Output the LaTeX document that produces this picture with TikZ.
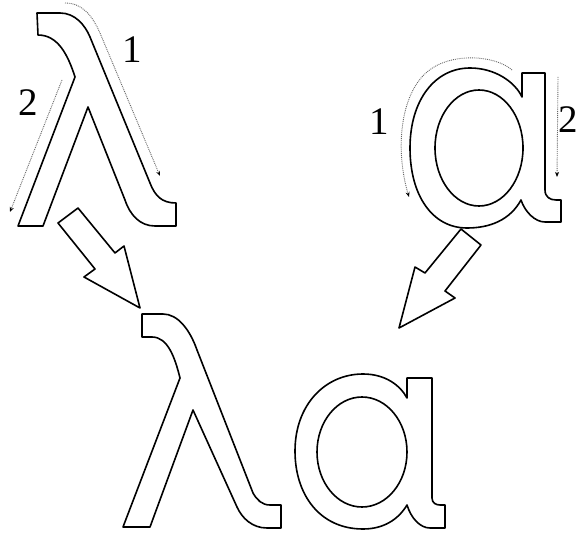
\documentclass[tikz,border=0pt]{standalone}
\usepackage{fontspec}
\setmainfont{Liberation Serif}
\usetikzlibrary{arrows.meta}
\begin{document}
\begin{tikzpicture}[x=1pt,y=-1pt,
  glyph/.style={draw=black, line width=1.6pt, line join=round, fill=white},
  guide/.style={draw=gray!80!black, densely dotted, line width=0.9pt, -{Stealth[length=5pt,width=4pt,black]}},
  num/.style={font=\fontsize{39}{39}\selectfont, inner sep=0pt}]
\useasboundingbox[fill=white] (0,0) rectangle (577,534);

% top lambda
\draw[glyph] (37,13) -- (60,13) .. controls (75,13) and (85,25) .. (90,37)
  -- (150,183) .. controls (155,196) and (162,203) .. (176,203)
  -- (176,226) -- (155,226) .. controls (140,226) and (130,215) .. (125,200)
  -- (88,107) -- (43,226) -- (18,226) -- (75,77)
  .. controls (68,55) and (58,35) .. (38,35) -- cycle;

% top alpha
\draw[glyph, even odd rule] (522,73) -- (545,73) -- (545,190)
  .. controls (545,197) and (550,200) .. (556,200) -- (561,200) -- (561,222) -- (545,222)
  .. controls (535,222) and (525,212) .. (521,200)
  .. controls (510,220) and (490,228) .. (467,228)
  .. controls (432,228) and (410,195) .. (410,148)
  .. controls (410,100) and (435,68) .. (470,68)
  .. controls (495,68) and (515,82) .. (522,97) -- cycle
  (479,148) ellipse [x radius=44, y radius=58];

% bottom lambda
\draw[glyph] (142,314) -- (163,314) .. controls (178,314) and (190,330) .. (197,350)
  -- (253,493) .. controls (257,500) and (262,505) .. (270,505) -- (281,505)
  -- (281,528) -- (267,528) .. controls (252,528) and (242,518) .. (237,507)
  -- (193,410) -- (150,527) -- (123,527) -- (180,378)
  .. controls (175,358) and (168,337) .. (152,337) -- (142,337) -- cycle;

% bottom alpha
\draw[glyph, even odd rule] (407,378) -- (432,378) -- (432,498)
  .. controls (432,503) and (436,505) .. (440,505) -- (445,505) -- (445,528) -- (430,528)
  .. controls (420,528) and (411,518) .. (407,505)
  .. controls (398,520) and (383,529) .. (363,529)
  .. controls (320,529) and (295,495) .. (295,451)
  .. controls (295,405) and (325,374) .. (363,374)
  .. controls (385,374) and (400,385) .. (407,398) -- cycle
  (362,452) ellipse [x radius=45, y radius=55];

% block arrows
\draw[glyph] (58,223) -- (78,208) -- (115,253) -- (124,246) -- (140,308)
  -- (84,277) -- (95,269) -- cycle;
\draw[glyph] (461,229) -- (481,245) -- (445,291) -- (455,298) -- (399,328)
  -- (415,267) -- (425,273) -- cycle;

% stroke-order guides
\draw[guide] (65,3) .. controls (82,3) and (92,15) .. (100,33) -- (160,176);
\draw[guide] (62,80) -- (10,212);
\draw[guide] (512,70) .. controls (495,55) and (450,52) .. (427,72)
  .. controls (400,95) and (395,150) .. (409,197);
\draw[guide] (558,77) -- (557,177);

% numbers
\node[num] (l1) at (132,50) {1};
\node[num] (l2) at (28,103) {2};
\node[num] (a1) at (379,122) {1};
\node[num] (a2) at (568,120) {2};
\end{tikzpicture}
\end{document}
